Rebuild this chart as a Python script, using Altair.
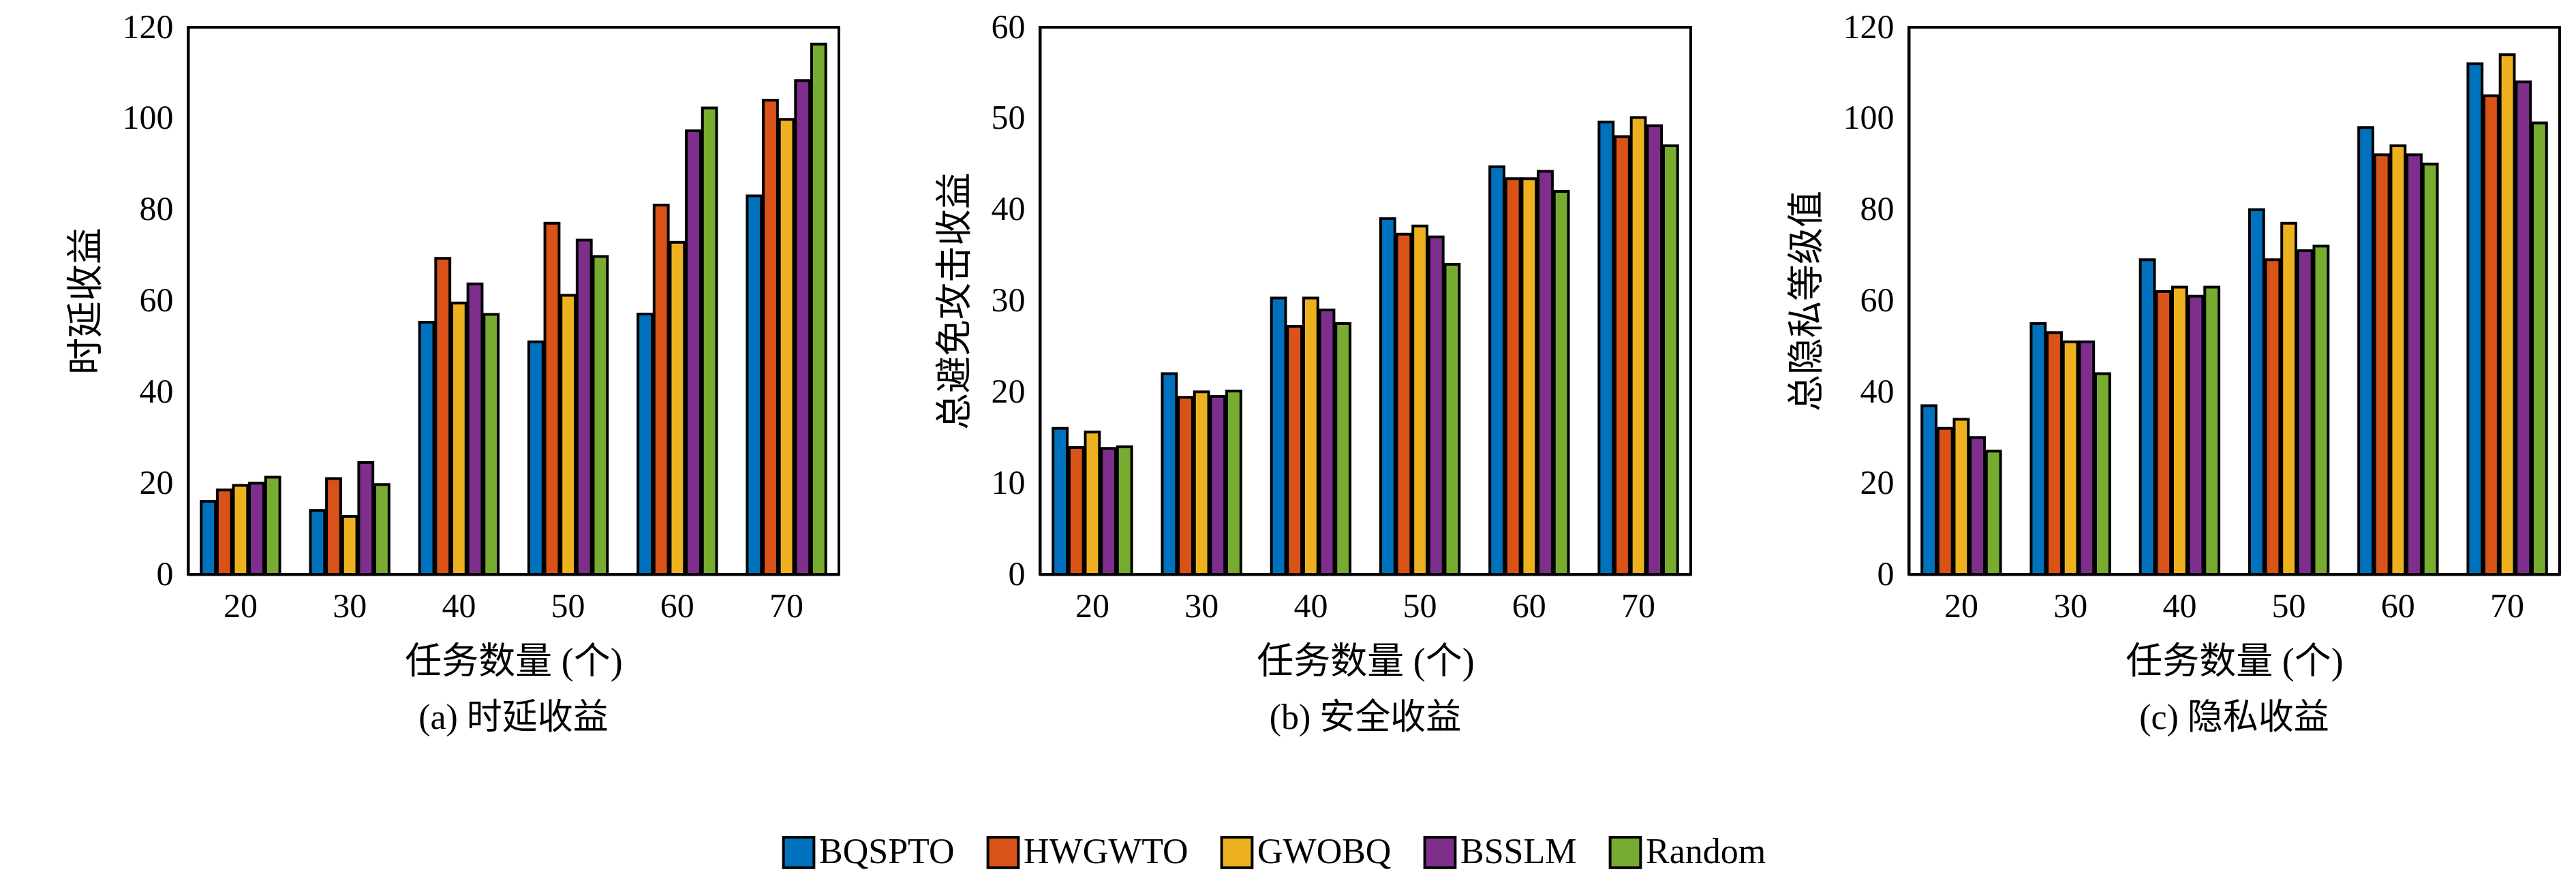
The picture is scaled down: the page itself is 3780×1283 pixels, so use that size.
import altair as alt
import pandas as pd

tasks = ["20", "30", "40", "50", "60", "70"]
methods = ["BQSPTO", "HWGWTO", "GWOBQ", "BSSLM", "Random"]
colors = ["#0072BD", "#D95319", "#EDB120", "#7E2F8E", "#77AC30"]

delay = {
    "BQSPTO": [16, 14, 55.3, 51, 57.1, 83],
    "HWGWTO": [18.5, 21, 69.3, 77, 81, 104],
    "GWOBQ": [19.5, 12.7, 59.5, 61.2, 72.8, 99.8],
    "BSSLM": [20, 24.5, 63.7, 73.3, 97.3, 108.3],
    "Random": [21.3, 19.7, 57, 69.7, 102.3, 116.3],
}
security = {
    "BQSPTO": [16, 22, 30.3, 39, 44.7, 49.6],
    "HWGWTO": [13.9, 19.4, 27.2, 37.3, 43.4, 48],
    "GWOBQ": [15.6, 20, 30.3, 38.2, 43.4, 50.1],
    "BSSLM": [13.8, 19.5, 29, 37, 44.2, 49.2],
    "Random": [14, 20.1, 27.5, 34, 42, 47],
}
privacy = {
    "BQSPTO": [37, 55, 69, 80, 98, 112],
    "HWGWTO": [32, 53, 62, 69, 92, 105],
    "GWOBQ": [34, 51, 63, 77, 94, 114],
    "BSSLM": [30, 51, 61, 71, 92, 108],
    "Random": [27, 44, 63, 72, 90, 99],
}

FONT = "Liberation Serif, Noto Sans CJK SC"

def panel(data, ymax, ystep, ytitle, sub):
    rows = [{"task": t, "method": m, "value": data[m][i]}
            for m in methods for i, t in enumerate(tasks)]
    df = pd.DataFrame(rows)
    return alt.Chart(df).mark_bar(stroke="black", strokeWidth=4).encode(
        x=alt.X("task:N", sort=tasks, title="任务数量 (个)",
                scale=alt.Scale(paddingInner=0.28, paddingOuter=0.12),
                axis=alt.Axis(labelAngle=0, ticks=False, labelPadding=22, titlePadding=30)),
        xOffset=alt.XOffset("method:N", sort=methods,
                            scale=alt.Scale(paddingInner=0.12)),
        y=alt.Y("value:Q", title=ytitle,
                scale=alt.Scale(domain=[0, ymax], nice=False),
                axis=alt.Axis(values=list(range(0, ymax + 1, ystep)), grid=False,
                              tickSize=0, labelPadding=22, titlePadding=25)),
        color=alt.Color("method:N", sort=methods,
                        scale=alt.Scale(domain=methods, range=colors),
                        legend=alt.Legend(title=None, orient="none", direction="horizontal",
                                          legendX=870, legendY=1185,
                                          symbolType="square", symbolSize=2000,
                                          symbolStrokeColor="black", symbolStrokeWidth=4,
                                          labelFontSize=52, labelLimit=0, columnPadding=40)),
    ).properties(width=955, height=803,
                 title=alt.TitleParams(sub, orient="bottom", fontSize=52, font=FONT,
                                       fontWeight="normal", offset=30))

chart = alt.hconcat(
    panel(delay, 120, 20, "时延收益", "(a) 时延收益"),
    panel(security, 60, 10, "总避免攻击收益", "(b) 安全收益"),
    panel(privacy, 120, 20, "总隐私等级值", "(c) 隐私收益"),
    spacing=140,
).configure_view(stroke="black", strokeWidth=4).configure_axis(
    labelFont=FONT, titleFont=FONT, labelFontSize=50, titleFontSize=54,
    titleFontWeight="normal", domainColor="black", domainWidth=4,
    labelColor="black", titleColor="black",
).configure_legend(labelFont=FONT, labelColor="black").properties(
    padding={"left": 90, "top": 5, "right": 10, "bottom": 5}
)

chart.save("out.html", embed_options={"renderer": "svg", "actions": False})
